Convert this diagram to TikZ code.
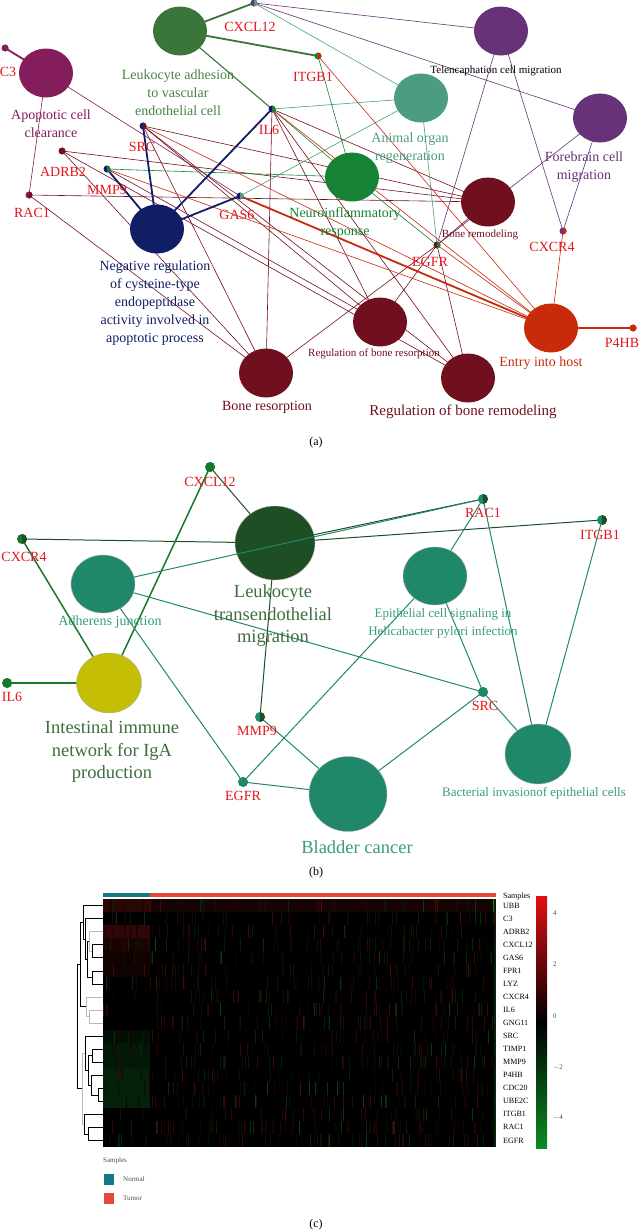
\documentclass[tikz,border=0pt]{standalone}
\usepackage{fontspec}
\setmainfont{Liberation Serif}

\definecolor{genered}{RGB}{228,22,28}
\definecolor{lagreen}{RGB}{58,118,58}
\definecolor{lalabel}{RGB}{70,130,70}
\definecolor{acpurple}{RGB}{133,28,92}
\definecolor{nrnavy}{RGB}{16,30,102}
\definecolor{brred}{RGB}{112,16,30}
\definecolor{tcpurple}{RGB}{104,50,120}
\definecolor{aoteal}{RGB}{74,156,130}
\definecolor{nigreen}{RGB}{22,130,52}
\definecolor{ehorange}{RGB}{200,42,12}
\definecolor{ltgreen}{RGB}{30,78,36}
\definecolor{ltlabel}{RGB}{62,110,62}
\definecolor{bteal}{RGB}{32,136,106}
\definecolor{btlabel}{RGB}{56,156,124}
\definecolor{ingold}{RGB}{196,190,4}
\definecolor{ingreen}{RGB}{22,120,42}
\definecolor{hmred}{RGB}{170,20,20}
\definecolor{hmgreen}{RGB}{20,150,40}
\definecolor{normteal}{RGB}{18,122,132}
\definecolor{tumred}{RGB}{226,72,60}
\definecolor{cbred}{RGB}{225,15,20}
\definecolor{cbgreen}{RGB}{12,140,36}

\newcommand{\genefs}{\fontsize{14}{16}\selectfont}
\newcommand{\termfs}{\fontsize{14}{18}\selectfont}
\newcommand{\smallfs}{\fontsize{11}{13}\selectfont}
\newcommand{\bigfs}{\fontsize{18.5}{22.5}\selectfont}
\newcommand{\medfs}{\fontsize{13}{18}\selectfont}
\newcommand{\hmfs}{\fontsize{8}{9}\selectfont}
\newcommand{\capfs}{\fontsize{12}{14}\selectfont}

% two-tone gene dot: name, radius, left colour, right colour
\newcommand{\gdot}[4]{%
  \fill[#3] (#1) circle (#2);
  \fill[#4] (#1) ++(0,-#2) arc[start angle=-90,end angle=90,radius=#2] -- cycle;}

\begin{document}
\begin{tikzpicture}[x=1pt, y=-1pt,
    edge/.style={line width=0.6pt},
    thickedge/.style={line width=1.8pt},
    bedge/.style={line width=1pt},
    glabel/.style={text=genered, font=\genefs, inner sep=0},
    tlabel/.style={align=center, font=\termfs, inner sep=0},
    hmlabel/.style={anchor=west, font=\hmfs, inner sep=0}]
\useasboundingbox (0,0) rectangle (639,1232);

% --- Panel (a): term / gene network ---
\coordinate (la) at (180,31);
\coordinate (ac) at (46,73);
\coordinate (nr) at (157,229);
\coordinate (br) at (266,373);
\coordinate (tc) at (501,31);
\coordinate (ao) at (421,98);
\coordinate (fb) at (600,118);
\coordinate (ni) at (352,177);
\coordinate (bm) at (488,202);
\coordinate (eh) at (551,328);
\coordinate (rbr) at (380,322);
\coordinate (rbm) at (468,378);

\coordinate (cxcl12) at (254,3);
\coordinate (itgb1) at (318,56);
\coordinate (c3) at (5,48);
\coordinate (il6) at (272,109);
\coordinate (src) at (143,126);
\coordinate (adrb2) at (62,151);
\coordinate (mmp9) at (107,169);
\coordinate (rac1) at (29,195);
\coordinate (gas6) at (240,196);
\coordinate (egfr) at (437,245);
\coordinate (cxcr4) at (563,231);
\coordinate (p4hb) at (633,328);

% Edges
\draw[thickedge, lagreen] (cxcl12) -- (la) -- (itgb1);
\draw[edge, lagreen, line width=1.1pt] (la) -- (il6);
\draw[thickedge, acpurple] (c3) -- (ac);
\foreach \g in {rac1,gas6} \draw[edge, acpurple] (ac) -- (\g);
\foreach \g in {rac1,adrb2,src,il6,egfr} \draw[edge, brred] (br) -- (\g);
\foreach \g in {il6,src,mmp9,egfr} \draw[edge, brred] (rbr) -- (\g);
\foreach \g in {il6,src,adrb2,egfr} \draw[edge, brred] (rbm) -- (\g);
\foreach \g in {il6,src,adrb2,rac1,egfr} \draw[edge, brred] (bm) -- (\g);
\foreach \t in {tc,fb} \foreach \g in {cxcl12,egfr,cxcr4} \draw[edge, tcpurple] (\t) -- (\g);
\foreach \g in {cxcl12,il6,gas6,egfr} \draw[edge, aoteal] (ao) -- (\g);
\foreach \g in {itgb1,il6,mmp9,egfr} \draw[edge, nigreen] (ni) -- (\g);
\foreach \g in {cxcr4,egfr,il6,src,itgb1,mmp9} \draw[edge, ehorange] (eh) -- (\g);
\draw[thickedge, ehorange] (gas6) -- (eh) -- (p4hb);
\foreach \g in {src,mmp9,il6,gas6} \draw[thickedge, nrnavy] (nr) -- (\g);

% Term circles
\foreach \t/\c in {la/lagreen, ac/acpurple, nr/nrnavy, br/brred, tc/tcpurple,
    ao/aoteal, fb/tcpurple, ni/nigreen, bm/brred, eh/ehorange, rbr/brred, rbm/brred}
  \fill[\c] (\t) ellipse [x radius=27, y radius=24.5];

% Gene dots
\gdot{cxcl12}{3.5}{tcpurple}{aoteal}
\gdot{itgb1}{3.5}{nigreen}{ehorange}
\gdot{c3}{3.5}{acpurple}{acpurple}
\gdot{il6}{3.5}{nrnavy}{nigreen}
\gdot{src}{3.5}{nrnavy}{brred}
\gdot{adrb2}{3.5}{brred}{brred}
\gdot{mmp9}{3.5}{nrnavy}{nigreen}
\gdot{rac1}{3.5}{acpurple}{brred}
\gdot{gas6}{3.5}{nrnavy}{aoteal}
\gdot{egfr}{3.5}{brred}{nigreen}
\gdot{cxcr4}{3.5}{tcpurple}{ehorange}
\gdot{p4hb}{3.5}{ehorange}{ehorange}

% Gene labels
\node[glabel] (lcxcl12) at (250,27) {CXCL12};
\node[glabel] (litgb1) at (313,77) {ITGB1};
\node[glabel] (lc3) at (8,72) {C3};
\node[glabel] (lil6) at (269,130) {IL6};
\node[glabel] (lsrc) at (142,147) {SRC};
\node[glabel] (ladrb2) at (63,172) {ADRB2};
\node[glabel] (lmmp9) at (107,190) {MMP9};
\node[glabel] (lrac1) at (32,213) {RAC1};
\node[glabel] (lgas6) at (237,215) {GAS6};
\node[glabel] (legfr) at (430,262) {EGFR};
\node[glabel] (lcxcr4) at (552,247) {CXCR4};
\node[glabel] (lp4hb) at (622,343) {P4HB};

% Term labels
\node[tlabel, text=lalabel] (tla) at (178,93) {Leukocyte adhesion\\to vascular\\endothelial cell};
\node[tlabel, text=acpurple] (tac) at (51,124) {Apoptotic cell\\clearance};
\node[tlabel, text=nrnavy] (tnr) at (155,303) {Negative regulation\\of cysteine-type\\endopeptidase\\activity involved in\\apoptotic process};
\node[tlabel, text=brred] (tbr) at (267,407) {Bone resorption};
\node[tlabel, font=\smallfs] (ttc) at (496,71) {Telencaphation cell migration};
\node[tlabel, text=aoteal] (tao) at (410,148) {Animal organ\\regeneration};
\node[tlabel, text=tcpurple] (tfb) at (584,167) {Forebrain cell\\migration};
\node[tlabel, text=nigreen] (tni) at (345,223) {Neuroinflammatory\\response};
\node[tlabel, text=brred, font=\smallfs] (tbm) at (480,235) {Bone remodeling};
\node[tlabel, text=brred, font=\smallfs] (trbr) at (374,354) {Regulation of bone resorption};
\node[tlabel, text=ehorange] (teh) at (541,363) {Entry into host};
\node[tlabel, text=brred, font=\fontsize{15}{18}\selectfont] (trbm) at (463,412) {Regulation of bone remodeling};
\node[font=\capfs] (capa) at (316,443) {(a)};

% --- Panel (b): KEGG network ---
\coordinate (lt) at (275,543);
\coordinate (aj) at (103,584);
\coordinate (ep) at (435,576);
\coordinate (iga) at (109,683);
\coordinate (bladder) at (348,794);
\coordinate (invasion) at (538,754);

\coordinate (bcxcl12) at (210,467);
\coordinate (bcxcr4) at (22,539);
\coordinate (brac1) at (483,499);
\coordinate (bitgb1) at (602,520);
\coordinate (bil6) at (7,683);
\coordinate (bmmp9) at (260,717);
\coordinate (bsrc) at (483,692);
\coordinate (begfr) at (243,782);

\foreach \g in {bcxcl12,bcxcr4,brac1,bitgb1,bmmp9} \draw[bedge, ltgreen] (lt) -- (\g);
\foreach \g in {bcxcl12,bcxcr4,bil6} \draw[bedge, ingreen, line width=1.5pt] (iga) -- (\g);
\foreach \g in {bsrc,begfr} \draw[bedge, bteal] (aj) -- (\g);
\foreach \g in {brac1,begfr,bsrc} \draw[bedge, bteal] (ep) -- (\g);
\foreach \g in {brac1,bitgb1,bsrc} \draw[bedge, bteal] (invasion) -- (\g);
\foreach \g in {bmmp9,begfr,bsrc} \draw[bedge, bteal] (bladder) -- (\g);

\fill[ltgreen, draw=gray!60, line width=0.4pt] (lt) ellipse [x radius=40, y radius=37];
\fill[bteal, draw=gray!60, line width=0.4pt] (aj) ellipse [x radius=32, y radius=29];
\fill[bteal, draw=gray!60, line width=0.4pt] (ep) ellipse [x radius=32, y radius=29];
\fill[ingold, draw=gray!60, line width=0.4pt] (iga) ellipse [x radius=32.5, y radius=30];
\fill[bteal, draw=gray!60, line width=0.4pt] (bladder) ellipse [x radius=39, y radius=37.5];
\fill[bteal, draw=gray!60, line width=0.4pt] (invasion) ellipse [x radius=33, y radius=30];
\draw[bedge, bteal] (aj) -- (brac1);

\gdot{bcxcl12}{5}{ingreen}{ingreen}
\gdot{bcxcr4}{5}{ingreen}{ltgreen}
\gdot{brac1}{5}{bteal}{ltgreen}
\gdot{bitgb1}{5}{bteal}{ltgreen}
\gdot{bil6}{5}{ingreen}{ingreen}
\gdot{bmmp9}{5}{bteal}{ltgreen}
\gdot{bsrc}{5}{bteal}{bteal}
\gdot{begfr}{5}{bteal}{bteal}

\node[glabel] (lbcxcl12) at (210,482) {CXCL12};
\node[glabel] (lbcxcr4) at (24,557) {CXCR4};
\node[glabel] (lbrac1) at (483,513) {RAC1};
\node[glabel] (lbitgb1) at (600,535) {ITGB1};
\node[glabel] (lbil6) at (12,697) {IL6};
\node[glabel] (lbmmp9) at (257,731) {MMP9};
\node[glabel] (lbsrc) at (485,706) {SRC};
\node[glabel] (lbegfr) at (243,796) {EGFR};

\node[tlabel, text=ltlabel, font=\bigfs] (tlt) at (273,616) {Leukocyte\\transendothelial\\migration};
\node[tlabel, text=btlabel] (taj) at (110,622) {Adherens junction};
\node[tlabel, text=btlabel, font=\medfs] (tep) at (443,623) {Epithelial cell signaling in\\Helicabacter pylori infection};
\node[tlabel, text=ltlabel, font=\bigfs] (tiga) at (112,752) {Intestinal immune\\network for IgA\\production};
\node[tlabel, text=btlabel, font=\bigfs] (tbladder) at (357,847) {Bladder cancer};
\node[tlabel, text=btlabel, font=\medfs] (tinvasion) at (534,793) {Bacterial invasionof epithelial cells};
\node[font=\capfs] (capb) at (316,873) {(b)};

% --- Panel (c): heatmap ---
\fill[normteal] (103,893) rectangle (150,897);
\fill[tumred] (150,893) rectangle (496,897);
\fill[black] (103,899) rectangle (496,1147);
% normal-sample tints
\fill[hmred!26!black] (103,899) rectangle (150,912);
\fill[hmred!28!black] (103,925) rectangle (150,938);
\fill[hmred!16!black] (103,938) rectangle (150,951);
\fill[hmred!10!black] (103,951) rectangle (150,977);
\fill[hmgreen!10!black] (103,1030) rectangle (150,1043);
\fill[hmgreen!17!black] (103,1043) rectangle (150,1069);
\fill[hmgreen!22!black] (103,1069) rectangle (150,1108);
\fill[hmred!14!black] (150,899) rectangle (496,912);
\fill[hmgreen!80!black] (493,899) rectangle (496,912);
\fill[hmgreen!25!black] (494,912) rectangle (496,1147);
% expression streaks
\pgfmathsetseed{17}
\foreach \k in {1,...,560}{
  \pgfmathsetmacro{\sx}{103+392*rnd}
  \pgfmathsetmacro{\sy}{899+13.05*floor(18.99*rnd)}
  \pgfmathtruncatemacro{\sp}{10+40*rnd*rnd}
  \fill[hmred!\sp!black] (\sx,\sy) rectangle ++(1,13.05);
}
\foreach \k in {1,...,380}{
  \pgfmathsetmacro{\sx}{103+392*rnd}
  \pgfmathsetmacro{\sy}{899+13.05*floor(18.99*rnd)}
  \pgfmathtruncatemacro{\sp}{10+40*rnd*rnd}
  \fill[hmgreen!\sp!black] (\sx,\sy) rectangle ++(1,13.05);
}
\fill[white] (103,897) rectangle (496,899);

% dendrogram
\begin{scope}[line width=0.5pt]
  \draw (103,944.7) -- (92,944.7) -- (92,957.7) -- (103,957.7);
  \draw[gray!55] (103,931.6) -- (89,931.6) -- (89,951.2) -- (92,951.2);
  \draw (103,970.8) -- (92,970.8) -- (92,983.8) -- (103,983.8);
  \draw (89,941.4) -- (87,941.4) -- (87,977.3) -- (92,977.3);
  \draw (103,918.6) -- (85,918.6) -- (85,959.4) -- (87,959.4);
  \draw (103,905.5) -- (83,905.5) -- (83,939) -- (85,939);
  \draw[gray!55] (103,1009.9) -- (89,1009.9) -- (89,1023) -- (103,1023);
  \draw[gray!55] (103,996.9) -- (86,996.9) -- (86,1016.5) -- (89,1016.5);
  \draw (83,922.2) -- (80,922.2) -- (80,1006.7) -- (86,1006.7);
  \draw (103,1088.2) -- (98,1088.2) -- (98,1101.3) -- (103,1101.3);
  \draw (103,1075.2) -- (91,1075.2) -- (91,1094.8) -- (98,1094.8);
  \draw (103,1049.1) -- (92,1049.1) -- (92,1062.1) -- (103,1062.1);
  \draw (92,1055.6) -- (88,1055.6) -- (88,1085) -- (91,1085);
  \draw (103,1036) -- (85,1036) -- (85,1070.3) -- (88,1070.3);
  \draw (103,1127.4) -- (88,1127.4) -- (88,1140.4) -- (103,1140.4);
  \draw (103,1114.3) -- (84,1114.3) -- (84,1133.9) -- (88,1133.9);
  \draw[gray!55] (85,1053.2) -- (82,1053.2) -- (82,1124.1) -- (84,1124.1);
  \draw (80,964.5) -- (77,964.5) -- (77,1088.7) -- (82,1088.7);
\end{scope}

% row labels
\node[hmlabel] (hsamples) at (503,897) {Samples};
\foreach \gn [count=\i] in {UBB,C3,ADRB2,CXCL12,GAS6,FPR1,LYZ,CXCR4,IL6,GNG11,
    SRC,TIMP1,MMP9,P4HB,CDC20,UBE2C,ITGB1,RAC1,EGFR}
  \node[hmlabel] (h\i) at (503,{899+13.05*(\i-0.5)}) {\gn};

% colour bar
\shade[top color=cbred, bottom color=cbgreen, middle color=black] (536,896) rectangle (547,1148);
\foreach \v/\yy in {4/913, 2/964, 0/1016, $-$2/1068, $-$4/1118}
  \node[hmlabel, text=black!70, font=\fontsize{7}{8}\selectfont] at (553,\yy) {\v};

% legend
\node[hmlabel, text=black!70, font=\fontsize{7}{8}\selectfont] (legsam) at (103,1161) {Samples};
\fill[normteal] (104,1174) rectangle (114,1185);
\node[hmlabel, text=black!70, font=\fontsize{7}{8}\selectfont] (legnorm) at (123,1179.5) {Normal};
\fill[tumred] (104,1193) rectangle (114,1204);
\node[hmlabel, text=black!70, font=\fontsize{7}{8}\selectfont] (legtum) at (123,1198.5) {Tumor};
\node[font=\capfs] (capc) at (316,1225) {(c)};
\end{tikzpicture}
\end{document}
